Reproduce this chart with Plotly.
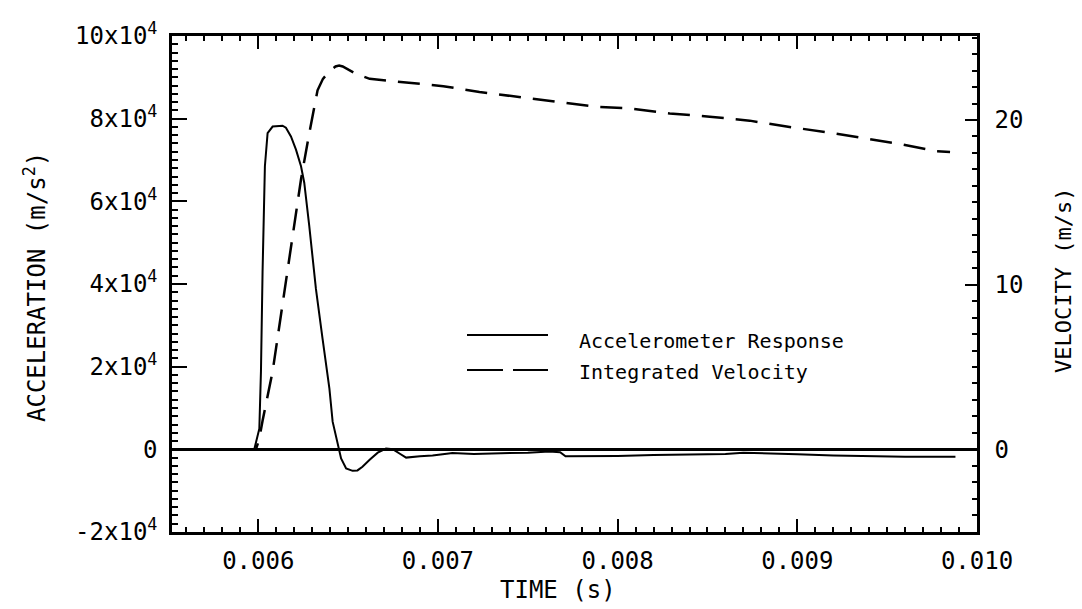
import plotly.graph_objects as go

# Accelerometer response (m/s^2) versus time (s)
time_acc = [0.00552, 0.00596, 0.005978, 0.006006, 0.006015, 0.006024, 0.00603, 0.006037,
            0.006052, 0.00608, 0.006135, 0.006154, 0.006182, 0.00621, 0.006238, 0.006256,
            0.006284, 0.006321, 0.006358, 0.006396, 0.006414, 0.006442, 0.006461, 0.006489,
            0.006525, 0.006552, 0.00658, 0.00662, 0.006665, 0.006711, 0.00675, 0.006786,
            0.006823, 0.0069, 0.00697, 0.00706, 0.00708, 0.0072, 0.00734, 0.0075, 0.00762,
            0.00768, 0.00771, 0.0079, 0.0080, 0.0082, 0.0084, 0.0086, 0.0087, 0.0088,
            0.0090, 0.0092, 0.0094, 0.0096, 0.00988]
accel = [0, 0, 0, 5000, 18800, 42900, 58900, 68500,
         76500, 78100, 78300, 77800, 75700, 72500, 68500, 64500,
         54000, 38800, 26700, 14700, 6700, 1000, -2200, -4600,
         -5200, -5100, -4200, -2500, -800, 200, 0, -1000,
         -2000, -1700, -1500, -1000, -900, -1100, -1000, -800, -500,
         -700, -1700, -1700, -1600, -1400, -1300, -1100, -800, -900,
         -1200, -1500, -1700, -1800, -1800]

# Velocity (m/s) obtained by integrating the accelerometer signal
time_vel = [0.0059, 0.005987, 0.006005, 0.006024, 0.00608, 0.006135, 0.006191, 0.006238,
            0.006284, 0.00633, 0.00636, 0.006396, 0.00643, 0.00645, 0.00647, 0.0065,
            0.006544, 0.00662, 0.0068, 0.00703, 0.007231, 0.007454, 0.007677, 0.007881,
            0.008067, 0.00829, 0.008513, 0.008735, 0.00894, 0.009163, 0.009367, 0.00959,
            0.009775, 0.00985]
velocity = [0, 0, 0.6, 1.73, 4.74, 8.75, 12.77, 16.4,
            19.2, 21.8, 22.5, 22.95, 23.25, 23.3, 23.25, 23.05,
            22.8, 22.5, 22.3, 22.05, 21.7, 21.4, 21.1, 20.8,
            20.7, 20.4, 20.2, 19.96, 19.6, 19.26, 18.9, 18.5,
            18.1, 18.05]

# Axis tick labels
x_ticks = [0.006, 0.007, 0.008, 0.009, 0.010]
x_ticktext = ["0.006", "0.007", "0.008", "0.009", "0.010"]
acc_ticks = [-20000, 0, 20000, 40000, 60000, 80000, 100000]
acc_ticktext = ["-2x10<sup>4</sup>", "0", "2x10<sup>4</sup>", "4x10<sup>4</sup>",
                "6x10<sup>4</sup>", "8x10<sup>4</sup>", "10x10<sup>4</sup>"]
vel_ticks = [0, 10, 20]
vel_ticktext = ["0", "10", "20"]

legend_labels = ["Accelerometer Response", "Integrated Velocity"]

FONT = "DejaVu Sans Mono"

fig = go.Figure()
fig.add_trace(go.Scatter(x=time_acc, y=accel, mode="lines",
                         line=dict(color="black", width=2), showlegend=False))
fig.add_trace(go.Scatter(x=time_vel, y=velocity, mode="lines", yaxis="y2",
                         line=dict(color="black", width=2.5, dash="22px,12px"),
                         showlegend=False))

W, H = 1082, 609
L, R, T, B = 172, 105, 36, 77
pw, ph = W - L - R, H - T - B


def px(x):
    return (x - L) / pw


def py(y):
    return (H - B - y) / ph


# Hand-drawn legend: line samples and labels
shapes = [
    dict(type="line", xref="paper", yref="paper", x0=px(467), x1=px(548), y0=py(335), y1=py(335),
         line=dict(color="black", width=2)),
    dict(type="line", xref="paper", yref="paper", x0=px(467), x1=px(503), y0=py(370), y1=py(370),
         line=dict(color="black", width=2)),
    dict(type="line", xref="paper", yref="paper", x0=px(513), x1=px(548), y0=py(370), y1=py(370),
         line=dict(color="black", width=2)),
]

annotations = [
    dict(text=legend_labels[0], xref="paper", yref="paper", x=px(577), y=py(341),
         xanchor="left", yanchor="middle", showarrow=False, font=dict(size=20)),
    dict(text=legend_labels[1], xref="paper", yref="paper", x=px(577), y=py(372),
         xanchor="left", yanchor="middle", showarrow=False, font=dict(size=20)),
    dict(text="TIME (s)", xref="paper", yref="paper", x=px(558), y=py(590),
         xanchor="center", yanchor="middle", showarrow=False, font=dict(size=24)),
    dict(text="ACCELERATION (m/s<sup>2</sup>)", xref="paper", yref="paper", x=px(35), y=py(287),
         xanchor="center", yanchor="middle", textangle=-90, showarrow=False, font=dict(size=24)),
    dict(text="VELOCITY (m/s)", xref="paper", yref="paper", x=px(1063), y=py(281),
         xanchor="center", yanchor="middle", textangle=-90, showarrow=False, font=dict(size=22)),
]

axis_common = dict(showline=True, linecolor="black", linewidth=2.5, ticks="inside",
                   tickcolor="black", tickwidth=2, showgrid=False, zeroline=False,
                   tickfont=dict(size=24, color="black"))

fig.update_layout(
    width=W, height=H,
    margin=dict(l=L, r=R, t=T, b=B),
    paper_bgcolor="white", plot_bgcolor="white",
    font=dict(family=FONT, color="black"),
    shapes=shapes, annotations=annotations,
    xaxis=dict(range=[0.00552, 0.010], tickvals=x_ticks, ticktext=x_ticktext,
               ticklen=13, mirror="ticks", ticklabelstandoff=5,
               minor=dict(dtick=0.0001, ticks="inside", ticklen=5, tickwidth=1.5, tickcolor="black"),
               **axis_common),
    yaxis=dict(range=[-20000, 100000], tickvals=acc_ticks, ticktext=acc_ticktext,
               ticklen=15, ticklabelstandoff=7,
               minor=dict(dtick=2000, ticks="inside", ticklen=6, tickwidth=1.5, tickcolor="black"),
               **{**axis_common, "zeroline": True}, zerolinecolor="black", zerolinewidth=2.5),
    yaxis2=dict(range=[-5.02, 25.1], overlaying="y", side="right",
                tickvals=vel_ticks, ticktext=vel_ticktext, ticklen=12, ticklabelstandoff=10,
                minor=dict(dtick=1, ticks="inside", ticklen=5, tickwidth=1.5, tickcolor="black"),
                **axis_common),
)

fig.write_html("out.html")
